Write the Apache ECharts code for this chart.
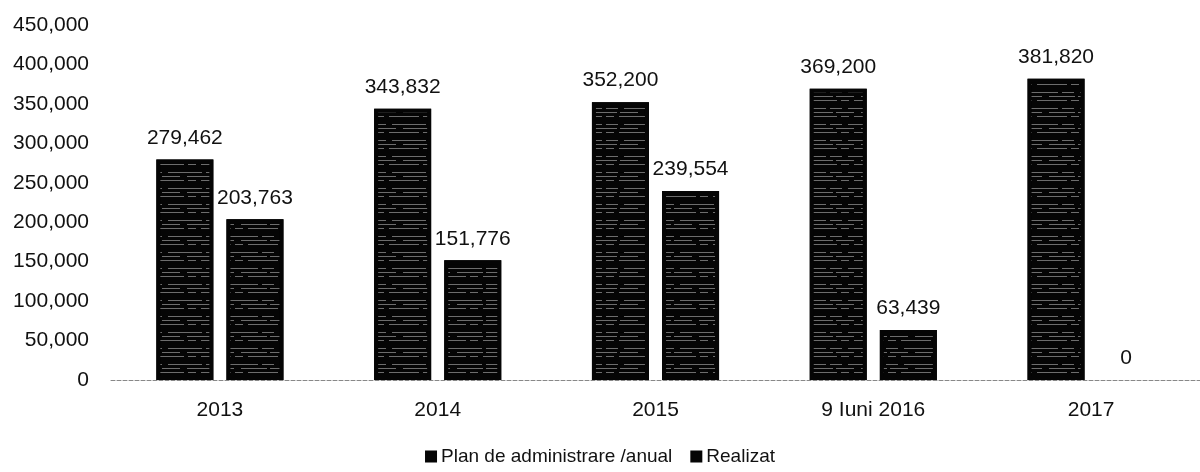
<!DOCTYPE html>
<html>
<head>
<meta charset="utf-8">
<script src="https://cdn.jsdelivr.net/npm/echarts@6/dist/echarts.min.js"></script>
<style>
  html, body { margin: 0; padding: 0; background: #fff; }
  #bar { width: 1200px; height: 472px; }
</style>
</head>
<body>
<div id="bar"></div>
<script>
// data
var categories = ['2013', '2014', '2015', '9 Iuni 2016', '2017'];
var planValues = [279462, 343832, 352200, 369200, 381820];
var realizatValues = [203763, 151776, 239554, 63439, 0];
var seriesNames = ['Plan de administrare /anual', 'Realizat'];

var font = '"Liberation Sans", Arial, sans-serif';

// black bars with broken horizontal light stripes, like the scan
var stripes = {
  symbol: 'rect',
  symbolSize: 1,
  color: 'rgba(255,255,255,0.42)',
  dashArrayX: [[34, 4, 12, 6], [18, 7, 26, 3], [8, 5, 30, 4], [0, 60]],
  dashArrayY: [1, 3],
  rotation: 0
};

function barSeries(name, values) {
  return {
    name: name,
    type: 'bar',
    // a zero bar gets no border so it stays invisible
    data: values.map(function (v) {
      return v === 0 ? { value: v, itemStyle: { borderWidth: 0 } } : v;
    }),
    barWidth: 57,
    barGap: '23%',
    itemStyle: {
      color: '#050505',
      borderColor: '#050505',
      borderWidth: 4,
      decal: stripes
    },
    label: {
      show: true,
      position: 'top',
      distance: 11,
      color: '#111',
      fontFamily: font,
      fontSize: 21,
      formatter: function (p) { return p.value.toLocaleString('en-US'); }
    }
  };
}

var myChart = echarts.init(document.getElementById('bar'));
myChart.setOption({
  animation: false,
  legend: {
    data: seriesNames,
    bottom: 1,
    left: 'center',
    icon: 'rect',
    itemWidth: 10,
    itemHeight: 10,
    itemGap: 18,
    itemStyle: { decal: 'none' },
    textStyle: { fontFamily: font, fontSize: 19, color: '#111' }
  },
  grid: { left: 111, top: 25, bottom: 92, width: 1100 },
  xAxis: {
    type: 'category',
    data: categories,
    axisTick: { show: false },
    axisLine: { lineStyle: { color: '#888', type: 'dashed', width: 1 } },
    axisLabel: { fontFamily: font, fontSize: 21, color: '#111', margin: 20 }
  },
  yAxis: {
    type: 'value',
    min: 0,
    max: 450000,
    interval: 50000,
    splitLine: { show: false },
    axisLine: { show: false },
    axisTick: { show: false },
    axisLabel: {
      fontFamily: font,
      fontSize: 21,
      color: '#111',
      margin: 22,
      formatter: function (v) { return v.toLocaleString('en-US'); }
    }
  },
  series: [
    barSeries(seriesNames[0], planValues),
    barSeries(seriesNames[1], realizatValues)
  ]
});
</script>
</body>
</html>
